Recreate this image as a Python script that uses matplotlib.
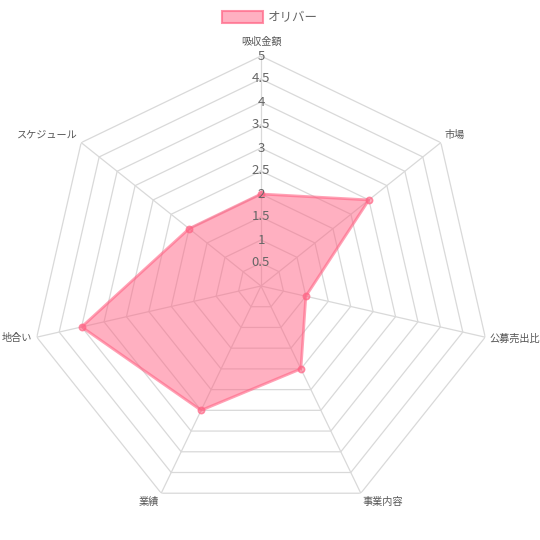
import numpy as np
import matplotlib.pyplot as plt
from matplotlib.patches import Patch

plt.rcParams['font.family'] = ['Noto Sans CJK JP', 'DejaVu Sans']

labels = ['吸収金額', '市場', '公募売出比', '事業内容', '業績', '地合い', 'スケジュール']
values = [2, 3, 1, 2, 3, 4, 2]
series_name = 'オリバー'
ticks = [0.5, 1, 1.5, 2, 2.5, 3, 3.5, 4, 4.5, 5]
tick_labels = ['0.5', '1', '1.5', '2', '2.5', '3', '3.5', '4', '4.5', '5']

pink = (1.0, 99 / 255, 132 / 255)
fill = (1.0, 99 / 255, 132 / 255, 0.5)
grid_col = '#d9d9d9'
text_col = '#666666'

n = len(labels)
theta = np.arange(n) * 2 * np.pi / n
theta_c = np.append(theta, theta[0])

fig = plt.figure(figsize=(5.4, 5.4), dpi=100)
ax = fig.add_axes([31 / 540, 24 / 540, 460 / 540, 460 / 540], projection='polar')
ax.set_theta_offset(np.pi / 2)
ax.set_theta_direction(-1)
ax.set_ylim(0, 5)
ax.grid(False)
ax.spines['polar'].set_visible(False)
ax.set_xticks([])
ax.set_yticks([])
ax.patch.set_alpha(0)

# polygon rings and spokes
for t in ticks:
    ax.plot(theta_c, [t] * (n + 1), color=grid_col, lw=0.9, zorder=1)
for th in theta:
    ax.plot([th, th], [0, 5], color=grid_col, lw=0.9, zorder=1)

# data
vals_c = values + values[:1]
ax.fill(theta_c, vals_c, color=fill, zorder=2, lw=0)
ax.plot(theta_c, vals_c, color=pink, lw=2.0, alpha=0.6, zorder=3)
ax.scatter(theta, values, s=20, color=fill, edgecolor=(1.0, 99 / 255, 132 / 255, 0.7),
           linewidth=1.2, zorder=4)

# tick labels along top spoke
for t, s in zip(ticks, tick_labels):
    ax.text(0, t, s, ha='center', va='center', fontsize=9.5, color=text_col, zorder=5)

# point labels
align = [('center', 'bottom'), ('left', 'bottom'), ('left', 'center'),
         ('left', 'top'), ('right', 'top'), ('right', 'center'), ('right', 'bottom')]
for i, (th, lab, (ha, va)) in enumerate(zip(theta, labels, align)):
    r = 5.2 if i == 0 else 5.1
    ax.text(th, r, lab, ha=ha, va=va, fontsize=7.3, color='#555555', zorder=5)

handle = Patch(facecolor=fill, edgecolor=(1.0, 99 / 255, 132 / 255, 0.7), linewidth=1.5)
fig.legend([handle], [series_name], loc='upper center', bbox_to_anchor=(0.5, 1.0),
           frameon=False, fontsize=9, handlelength=3.3, handleheight=1.0,
           handletextpad=0.4, labelcolor=text_col)

fig.savefig('out.png', dpi=100)
